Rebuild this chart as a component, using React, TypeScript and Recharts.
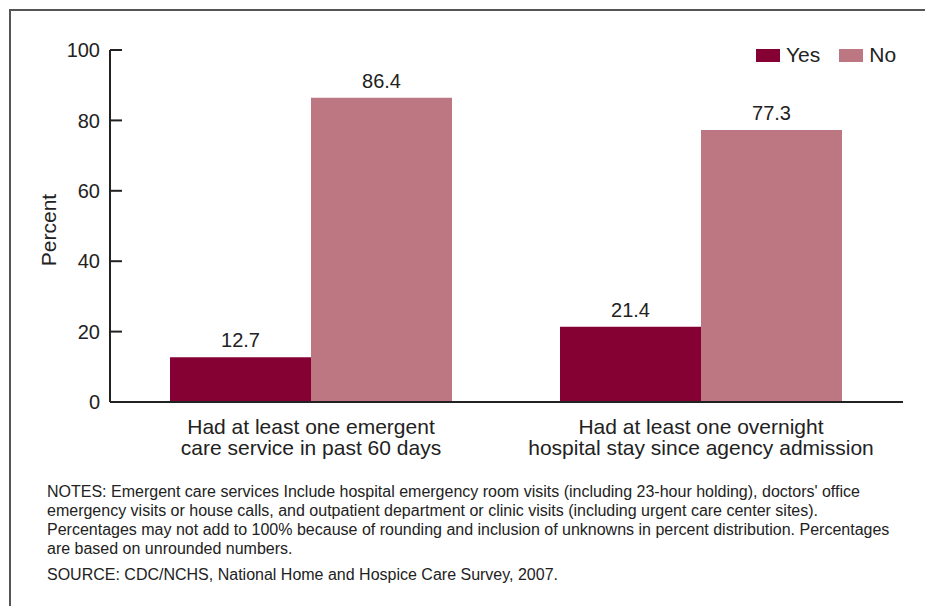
import React from 'react';
import { BarChart, Bar, XAxis, YAxis, LabelList } from 'recharts';

// Categories and values
const categories = [
  'Had at least one emergent\ncare service in past 60 days',
  'Had at least one overnight\nhospital stay since agency admission',
];
const yesValues = [12.7, 21.4];
const noValues = [86.4, 77.3];
const yTicks = [0, 20, 40, 60, 80, 100];

const YES_COLOR = '#850033';
const NO_COLOR = '#bd7783';
const TEXT = '#222';
const FONT = '"Liberation Sans", Arial, Helvetica, sans-serif';

const chartData = categories.map((name, i) => ({ name, yes: yesValues[i], no: noValues[i] }));

const CategoryTick = ({ x, y, payload }: any) => {
  const lines = String(payload.value).split('\n');
  return (
    <text x={x} y={y} textAnchor="middle" fill={TEXT} fontSize={21} fontFamily={FONT}>
      {lines.map((line, i) => (
        <tspan key={i} x={x} dy={i === 0 ? 24 : 21}>{line}</tspan>
      ))}
    </text>
  );
};

const LegendBox = () => (
  <div style={{ position: 'absolute', left: 756, top: 43, display: 'flex', alignItems: 'center', fontFamily: FONT, fontSize: 21, color: TEXT }}>
    {[['Yes', YES_COLOR], ['No', NO_COLOR]].map(([label, color]) => (
      <div key={label} style={{ display: 'flex', alignItems: 'center', marginRight: 19 }}>
        <span style={{ display: 'inline-block', width: 24, height: 13, background: color, marginRight: 6 }} />
        <span>{label}</span>
      </div>
    ))}
  </div>
);

export default function App() {
  return (
    <div style={{ position: 'absolute', left: 0, top: 0, width: 925, height: 606, background: '#fff', overflow: 'hidden' }}>
      <div style={{ position: 'absolute', left: 9, top: 9, width: 930, height: 620, borderTop: '2px solid #555', borderLeft: '2px solid #555' }} />
      <div style={{ position: 'absolute', left: 0, top: 0 }}>
        <BarChart width={925} height={480} data={chartData} margin={{ top: 50, right: 22, bottom: 0, left: 0 }} barCategoryGap={54} barGap={0}>
          <XAxis
            dataKey="name"
            height={78}
            tickLine={false}
            axisLine={{ stroke: TEXT, strokeWidth: 2 }}
            padding={{ left: 6, right: 7 }}
            tick={<CategoryTick />}
            interval={0}
          />
          <YAxis
            width={110}
            domain={[0, 100]}
            ticks={yTicks}
            tickSize={-12}
            tickMargin={22}
            axisLine={{ stroke: TEXT, strokeWidth: 2 }}
            tickLine={{ stroke: TEXT, strokeWidth: 2 }}
            tick={{ fill: TEXT, fontSize: 20, fontFamily: FONT }}
            label={{
              content: ({ viewBox }: any) => {
                const cy = viewBox.y + viewBox.height / 2 + 4;
                return (
                  <text x={56} y={cy} transform={`rotate(-90, 56, ${cy})`} textAnchor="middle" fill={TEXT} fontSize={21} fontFamily={FONT}>
                    Percent
                  </text>
                );
              },
            }}
          />
          <Bar dataKey="yes" name="Yes" fill={YES_COLOR} isAnimationActive={false}>
            <LabelList dataKey="yes" position="top" offset={10} fill={TEXT} fontSize={20} fontFamily={FONT} />
          </Bar>
          <Bar dataKey="no" name="No" fill={NO_COLOR} isAnimationActive={false}>
            <LabelList dataKey="no" position="top" offset={10} fill={TEXT} fontSize={20} fontFamily={FONT} />
          </Bar>
        </BarChart>
      </div>
      <LegendBox />
      <div style={{ position: 'absolute', left: 47, top: 482, width: 875, fontFamily: FONT, fontSize: 16, lineHeight: '19px', color: TEXT, whiteSpace: 'nowrap' }}>
        <div>
          NOTES: Emergent care services Include hospital emergency room visits (including 23-hour holding), doctors' office
          <br />
          emergency visits or house calls, and outpatient department or clinic visits (including urgent care center sites).
          <br />
          Percentages may not add to 100% because of rounding and inclusion of unknowns in percent distribution. Percentages
          <br />
          are based on unrounded numbers.
        </div>
        <div style={{ marginTop: 7 }}>SOURCE: CDC/NCHS, National Home and Hospice Care Survey, 2007.</div>
      </div>
    </div>
  );
}
